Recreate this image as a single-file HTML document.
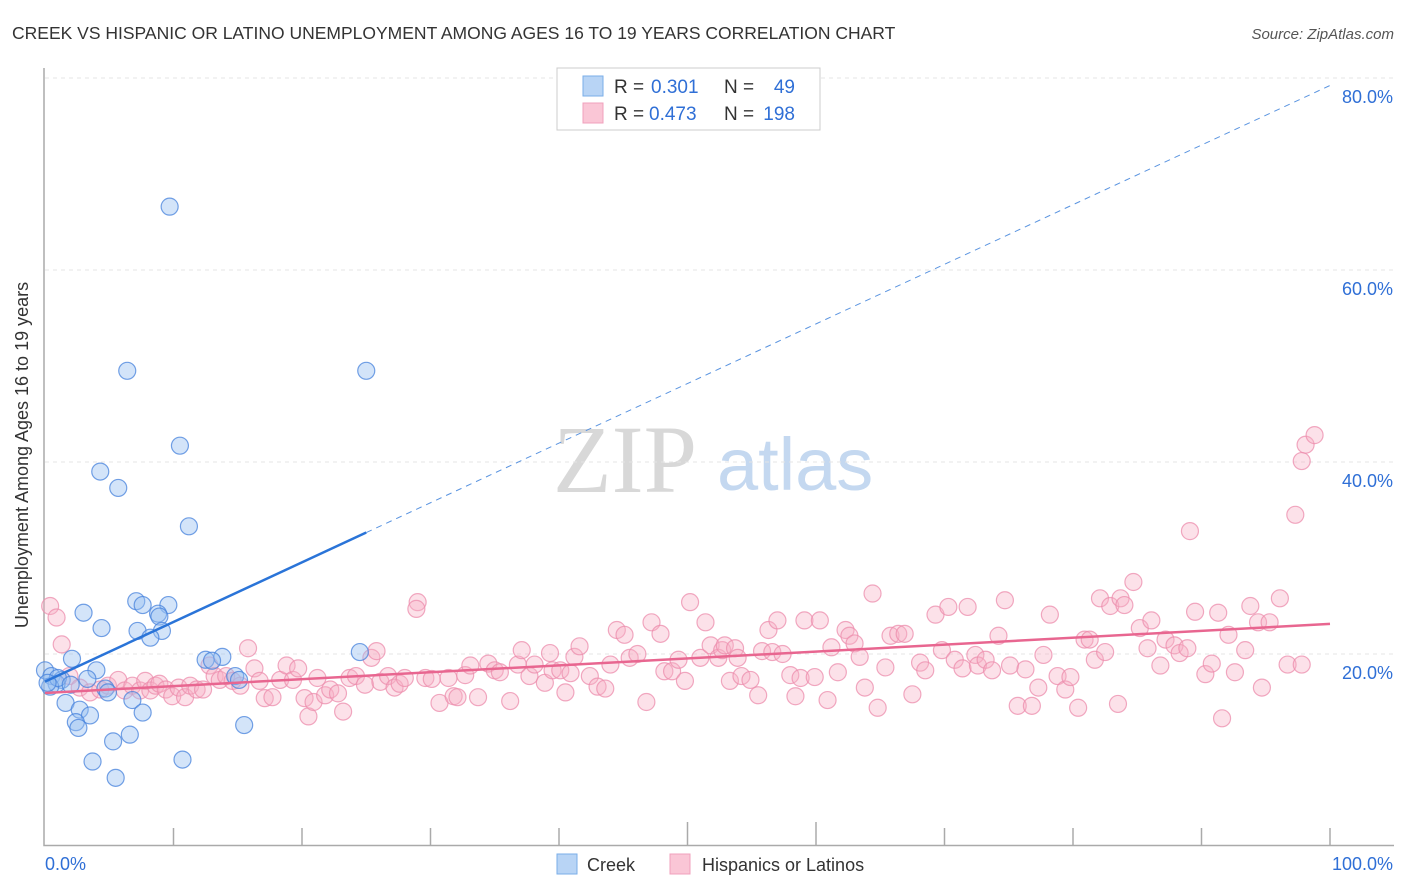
<!DOCTYPE html>
<html><head><meta charset="utf-8">
<style>
body{margin:0;background:#fff;font-family:"Liberation Sans",sans-serif;}
#wrap{position:relative;width:1406px;height:892px;overflow:hidden;}
</style></head>
<body>
<div id="wrap">
<svg id="svg" width="1406" height="892" xmlns="http://www.w3.org/2000/svg">
<text x="12" y="39" font-size="17.5" fill="#333">CREEK VS HISPANIC OR LATINO UNEMPLOYMENT AMONG AGES 16 TO 19 YEARS CORRELATION CHART</text>
<text x="1394" y="39" font-size="15" fill="#555" font-style="italic" text-anchor="end">Source: ZipAtlas.com</text>
<text x="28" y="455" font-size="18" fill="#333" text-anchor="middle" transform="rotate(-90 28 455)">Unemployment Among Ages 16 to 19 years</text>
<g>
<text x="553" y="492" font-size="96" fill="#d8d8d8" font-family="Liberation Serif,serif">ZIP</text>
<text x="717" y="490" font-size="74" fill="#c4d8f0">atlas</text>
</g>
<g id="grid"></g><g id="axes"></g><g id="pink"></g><g id="blue"></g><g id="lines"></g>
<g>
<rect x="557" y="68" width="263" height="62" fill="#fff" stroke="#ccc"/>
<rect x="583" y="76" width="20" height="20" fill="#b8d4f5" stroke="#7aaee8"/>
<rect x="583" y="103" width="20" height="20" fill="#fac6d6" stroke="#f0a0bc"/>
<text x="614" y="93" font-size="19" fill="#333">R =</text>
<text x="651" y="93" font-size="19" fill="#2f6fd6">0.301</text>
<text x="724" y="93" font-size="19" fill="#333">N =</text>
<text x="795" y="93" font-size="19" fill="#2f6fd6" text-anchor="end">49</text>
<text x="614" y="120" font-size="19" fill="#333">R =</text>
<text x="649" y="120" font-size="19" fill="#2f6fd6">0.473</text>
<text x="724" y="120" font-size="19" fill="#333">N =</text>
<text x="795" y="120" font-size="19" fill="#2f6fd6" text-anchor="end">198</text>
</g>
<g>
<rect x="557" y="854" width="20" height="20" fill="#b8d4f5" stroke="#7aaee8"/>
<text x="587" y="871" font-size="18" fill="#333">Creek</text>
<rect x="670" y="854" width="20" height="20" fill="#fac6d6" stroke="#f0a0bc"/>
<text x="702" y="871" font-size="18" fill="#333">Hispanics or Latinos</text>
</g>
</svg>
</div>
<script>
const yTicks=[20,40,60,80];
const xTickLabels=["0.0%","100.0%"];
const creekX=[9.7,6.4,25.0,10.5,4.3,5.7,11.2,7.1,7.6,3.0,9.6,8.8,8.9,4.4,7.2,9.1,8.2,24.5,13.8,2.1,12.5,13.0,4.0,0,0.5,1.3,3.3,0.9,4.7,0.4,1.6,2.7,6.8,3.5,2.4,2.6,7.6,15.5,5.3,6.6,3.7,5.5,10.7,14.8,15.1,4.9,1.0,0.2,2.0];
const creekY=[66.6,49.5,49.5,41.7,39.0,37.3,33.3,25.5,25.1,24.3,25.1,24.2,23.9,22.7,22.4,22.4,21.7,20.2,19.7,19.5,19.4,19.3,18.3,18.3,17.7,17.3,17.4,16.9,16.4,16.6,14.9,14.2,15.2,13.6,12.9,12.3,13.9,12.6,10.9,11.6,8.8,7.1,9.0,17.7,17.3,16.0,17.5,17.0,16.8];
const hispX=[0.4,0.9,1.3,1.9,2.7,3.5,4.3,4.9,5.7,6.2,6.8,7.4,7.8,8.2,8.6,8.9,9.4,9.9,10.4,10.9,11.3,11.8,12.3,12.8,13.2,13.6,14.1,14.6,15.2,15.8,16.3,16.7,17.1,17.7,18.3,18.8,19.3,19.7,20.2,20.5,20.9,21.2,21.8,22.2,22.8,23.2,23.7,24.2,24.9,25.4,25.8,26.1,26.7,27.2,27.6,28.0,29.0,28.9,29.6,30.1,30.7,31.4,31.8,32.1,32.7,33.1,33.7,34.5,35.0,35.4,36.2,36.8,37.1,37.7,38.1,38.9,39.3,39.5,40.1,40.5,40.9,41.2,41.6,42.4,43.0,43.6,44.0,44.5,45.1,45.5,46.1,46.8,47.2,47.9,48.2,48.8,49.3,49.8,50.2,51.0,51.4,51.8,52.4,52.7,52.9,53.3,53.7,53.9,54.2,54.9,55.5,55.8,56.3,56.6,57.0,57.4,58.0,58.4,58.8,59.1,59.9,60.3,60.9,61.2,61.7,62.3,62.6,63.0,63.4,63.8,64.4,64.8,65.4,65.8,66.4,66.9,67.5,68.1,68.5,69.3,69.8,70.3,70.8,71.4,71.8,72.4,72.6,73.2,73.7,74.2,74.7,75.1,75.7,76.3,76.8,77.3,77.7,78.2,78.8,79.4,79.8,80.4,80.9,81.3,81.7,82.1,82.5,82.9,83.5,83.7,84.0,84.7,85.2,85.8,86.1,86.8,87.2,87.9,88.3,88.9,89.1,89.5,90.3,90.8,91.3,91.6,92.1,92.6,93.4,93.8,94.4,94.7,95.3,96.1,96.7,97.3,97.8,98.1,98.8,97.8];
const hispY=[25,23.8,21,17.7,16.5,16,16.3,16.7,17.3,16.2,16.7,16.2,17.2,16.2,16.7,16.9,16.3,15.6,16.5,15.5,16.7,16.3,16.3,18.8,17.7,17.3,17.7,17.2,16.7,20.6,18.5,17.2,15.4,15.5,17.3,18.8,17.3,18.5,15.4,13.5,15.0,17.5,15.7,16.3,15.9,14.0,17.5,17.7,16.8,19.6,20.3,17.1,17.7,16.5,16.9,17.5,25.4,24.7,17.5,17.4,14.9,17.5,15.6,15.5,17.8,18.8,15.5,19.0,18.3,18.1,15.1,18.9,20.4,17.7,18.9,17.0,20.1,18.3,18.3,16.0,18.0,19.7,20.8,17.7,16.6,16.4,18.9,22.5,22.0,19.6,20.0,15.0,23.3,22.1,18.2,18.2,19.4,17.2,25.4,19.6,23.3,20.9,19.6,20.4,20.9,17.2,20.6,19.6,17.7,17.3,15.7,20.3,22.5,20.2,23.5,20.0,17.8,15.6,17.5,23.5,17.6,23.5,15.2,20.7,18.1,22.5,21.9,21.1,19.7,16.5,26.3,14.4,18.6,21.9,22.1,22.1,15.8,19.1,18.3,24.1,20.4,24.9,19.4,18.5,24.9,19.9,18.8,19.4,18.3,21.9,25.6,18.8,14.6,18.4,14.6,16.5,19.9,24.1,17.7,16.3,17.6,14.4,21.5,21.5,19.4,25.8,20.2,25.0,14.8,25.8,25.1,27.5,22.7,20.6,23.5,18.8,21.5,20.9,20.1,20.6,32.8,24.4,17.9,19.0,24.3,13.3,22.0,18.1,20.4,25.0,23.3,16.5,23.3,25.8,18.9,34.5,40.1,41.8,42.8,18.9];

const NS="http://www.w3.org/2000/svg";
const X0=45,X1=1330,Y0=846,PXPER=9.6;
function sx(v){return X0+(X1-X0)*v/100;}
function sy(v){return Y0-v*PXPER;}
function mk(tag,attrs,parent){const e=document.createElementNS(NS,tag);for(const k in attrs)e.setAttribute(k,attrs[k]);parent.appendChild(e);return e;}
const grid=document.getElementById('grid'),axes=document.getElementById('axes');
[...yTicks].forEach(t=>{
  const l=mk('line',{x1:X0,x2:1394,y1:sy(t),y2:sy(t),stroke:'#e4e4e4','stroke-dasharray':'4,4'},grid);
  
  
  const tx=mk('text',{x:1393,y:sy(t)+25,'font-size':18,fill:'#2f6fd6','text-anchor':'end'},grid);
  tx.textContent=t.toFixed(1)+'%';
  
  
});
const ax=mk('path',{d:`M44 68 V845.5 H1394`,stroke:'#aaa',fill:'none','stroke-width':1.5},axes);


for(let i=1;i<=10;i++){
  const tk=mk('line',{x1:sx(i*10),x2:sx(i*10),y1:(i==5||i==6)?822:828,y2:845,stroke:'#aaa','stroke-width':1.5},axes);
  
  
}
const xl0=mk('text',{x:45,y:870,'font-size':18,fill:'#2f6fd6'},axes);xl0.textContent=xTickLabels[0];


const xl1=mk('text',{x:1393,y:870,'font-size':18,fill:'#2f6fd6','text-anchor':'end'},axes);xl1.textContent=xTickLabels[1];



function pts(xs,ys,g,fill,stroke,name){
  xs.forEach((x,i)=>{
    const c=mk('circle',{cx:sx(x),cy:sy(ys[i]),r:8.5,fill:fill,stroke:stroke,'stroke-width':1.2},g);
    
    
  });
}
pts(hispX,hispY,document.getElementById('pink'),'rgba(248,176,198,0.38)','rgba(236,140,172,0.75)','hispanic-point');
pts(creekX,creekY,document.getElementById('blue'),'rgba(150,190,240,0.42)','rgba(70,130,220,0.75)','creek-point');

function reg(xs,ys){const n=xs.length;let mx=0,my=0;xs.forEach((x,i)=>{mx+=x;my+=ys[i]});mx/=n;my/=n;let a=0,b=0;xs.forEach((x,i)=>{a+=(x-mx)*(ys[i]-my);b+=(x-mx)*(x-mx)});const s=a/b;return [my-s*mx,s];}
const lines=document.getElementById('lines');
const [cb,cs]=reg(creekX,creekY);
const cmax=Math.max(...creekX);
const l1=mk('line',{x1:sx(0),y1:sy(cb),x2:sx(cmax),y2:sy(cb+cs*cmax),stroke:'#2a74d8','stroke-width':2.5},lines);


const l2=mk('line',{x1:sx(cmax),y1:sy(cb+cs*cmax),x2:sx(100),y2:sy(cb+cs*100),stroke:'#5a94e0','stroke-width':1,'stroke-dasharray':'6,5'},lines);


const [hb,hs]=reg(hispX,hispY);
const l3=mk('line',{x1:sx(0),y1:sy(hb),x2:sx(100),y2:sy(hb+hs*100),stroke:'#e86690','stroke-width':2.5},lines);


</script>
</body></html>
